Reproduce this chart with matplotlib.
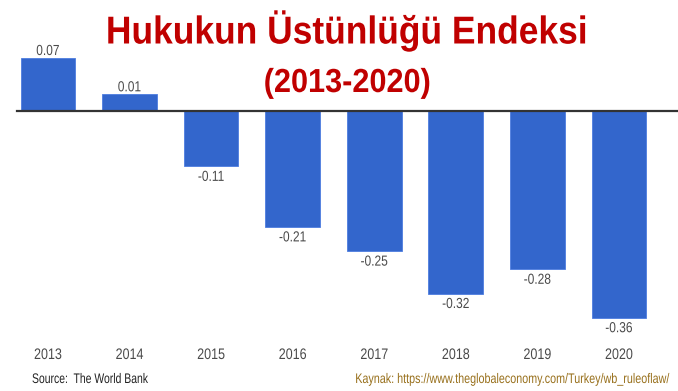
import matplotlib.pyplot as plt
from matplotlib.patheffects import AbstractPathEffect
from matplotlib.transforms import Affine2D

years = ["2013", "2014", "2015", "2016", "2017", "2018", "2019", "2020"]
scores = [0.07, 0.01, -0.11, -0.21, -0.25, -0.32, -0.28, -0.36]
baseline = -0.018

FONT = "Liberation Sans"
BLUE = "#3366cc"
GREY = "#4a4a4a"
RED = "#c00000"

W, H = 678, 391


class Squeeze(AbstractPathEffect):
    """Draws a text narrower by scaling its glyphs about the anchor x."""

    def __init__(self, text, sx):
        super().__init__()
        self.text = text
        self.sx = sx

    def draw_path(self, renderer, gc, tpath, affine, rgbFace=None):
        x0 = self.text.get_transform().transform(self.text.get_position())[0]
        squeeze = Affine2D().translate(-x0, 0).scale(self.sx, 1).translate(x0, 0)
        renderer.draw_path(gc, tpath, affine + squeeze, rgbFace)


def narrow(t, sx):
    t.set_path_effects([Squeeze(t, sx)])
    return t


def fig_text(fig, x, y, s, sx, **kw):
    # x, y in pixels from the top-left corner, y on the text baseline
    t = fig.text(x / W, 1 - y / H, s, va="baseline", family=FONT, **kw)
    return narrow(t, sx)


def main():
    fig = plt.figure(figsize=(W / 100, H / 100), dpi=100)
    ax = fig.add_axes([0, 0, 1, 1])
    ax.set_xlim(-0.588, 7.724)
    ax.set_ylim(-0.481, 0.165)
    ax.axis("off")

    xs = list(range(len(years)))
    heights = [s - baseline for s in scores]
    ax.bar(xs, heights, bottom=baseline, width=0.67, color=BLUE,
           edgecolor="#4d7de0", linewidth=0.6, zorder=2)
    ax.plot([-0.38, 7.724], [baseline, baseline], color="#333333", lw=1.6, zorder=3)

    for x, s in zip(xs, scores):
        dy = 1.8 if s >= 0 else -10.4
        t = ax.annotate(f"{s:.2f}", (x, s), xytext=(0, dy), textcoords="offset points",
                        ha="center", va="baseline", fontsize=10.5, color=GREY, family=FONT)
        narrow(t, 0.82)

    for x, y in zip(xs, years):
        t = ax.annotate(y, (x, 0), xycoords=("data", "figure pixels"), xytext=(0, H - 359),
                        textcoords=("offset points", "figure pixels"),
                        ha="center", va="baseline", fontsize=11, color=GREY, family=FONT)
        narrow(t, 0.82)

    fig_text(fig, 347, 43.5, "Hukukun Üstünlüğü Endeksi", 0.91, ha="center",
             fontsize=28, fontweight="bold", color=RED)
    fig_text(fig, 347.5, 92, "(2013-2020)", 0.92, ha="center",
             fontsize=24, fontweight="bold", color=RED)

    fig_text(fig, 32, 383, "Source:  The World Bank", 0.75, ha="left",
             fontsize=10, color="#222222")
    fig_text(fig, 670, 383, "Kaynak: https://www.theglobaleconomy.com/Turkey/wb_ruleoflaw/", 0.775,
             ha="right", fontsize=10, color="#98701c")

    fig.savefig("out.png", dpi=100)


if __name__ == '__main__':
    main()
